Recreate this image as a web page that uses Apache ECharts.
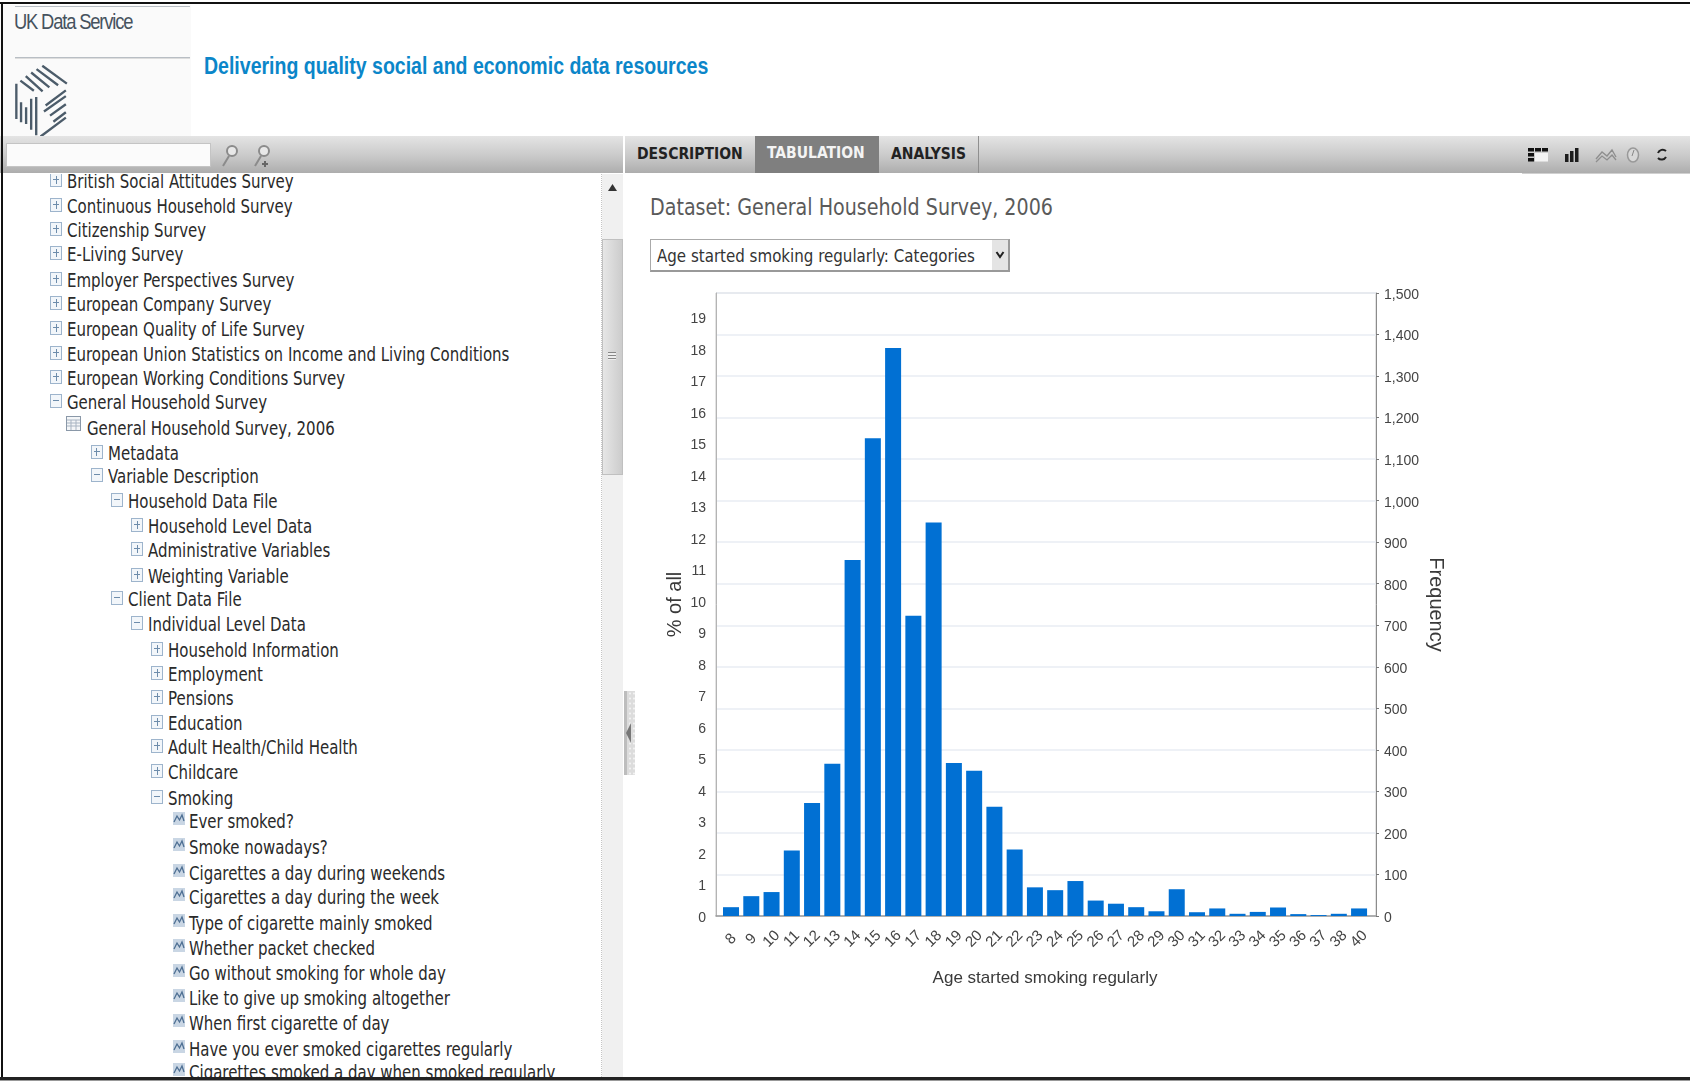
<!DOCTYPE html>
<html><head><meta charset="utf-8"><title>General Household Survey</title>
<script src="https://cdn.jsdelivr.net/npm/echarts@6/dist/echarts.min.js"></script>
<style>
html,body{margin:0;padding:0;background:#fff;width:1690px;height:1081px;overflow:hidden}
#page{position:absolute;left:0;top:0;width:1690px;height:1081px;overflow:hidden;font-family:"DejaVu Sans Condensed","DejaVu Sans",sans-serif;color:#222}
.abs{position:absolute}
.t{position:absolute;white-space:nowrap;line-height:1}
#tree{position:absolute;left:0;top:174px;width:601px;height:903px;overflow:hidden}
.row{position:absolute;height:20px;line-height:20px;white-space:nowrap;font-size:17px;color:#2a2a2a;font-stretch:condensed}
.ico{position:absolute;box-sizing:border-box;width:12px;height:14px;border:1px solid #9db4cc;background:#f2f6fa}
.ico:before{content:"";position:absolute;left:2px;right:2px;top:5px;height:1px;background:#6d8cab}
.ico.plus:after{content:"";position:absolute;top:2px;bottom:2px;left:4.5px;width:1px;background:#6d8cab}
.bar{position:absolute;background:linear-gradient(#e4e4e4,#c9c9c9 55%,#adadad)}
.tab{position:absolute;top:137px;height:36px;line-height:34px;font-family:"DejaVu Sans Condensed";font-weight:bold;font-size:15.5px;color:#222;white-space:nowrap}
#chart{position:absolute;left:0;top:0;width:1690px;height:1081px}
</style></head><body>
<div id="page">
  <div class="abs" style="left:0;top:5px;width:191px;height:131px;background:#fafafa"></div>
  <div class="abs" style="left:15px;top:6px;width:175px;height:1px;background:#b8bec4"></div>
  <div class="abs" style="left:15px;top:57px;width:175px;height:1px;background:#b8bec4;box-shadow:0 1px 0 #ddd"></div>
  <div class="t" id="ukds" style="left:14px;top:11px;font-family:'Liberation Sans';font-size:22px;color:#46525e;letter-spacing:-1.4px;transform-origin:0 0;transform:scaleX(.835)">UK Data Service</div>
  <svg class="abs" style="left:10px;top:55px" width="76" height="97" viewBox="0 0 224 288" fill="none" stroke="#4c5c6a" stroke-width="7">
    <path d="M95 32L168 85M78 42L142 90M62 52L116 96M46 63L96 108M30 76L70 106"/>
    <path d="M105 150L165 105M100 168L165 122M118 180L165 146M128 198L165 170M90 242L165 186"/>
    <path d="M18 85V190M32 140V200M47 155V205M62 130V222M77 125V238"/>
  </svg>
  <div class="t" id="tag" style="left:204px;top:54px;font-family:'Liberation Sans';font-weight:bold;font-size:24px;color:#0b86c9;transform-origin:0 0;transform:scaleX(.813)">Delivering quality social and economic data resources</div>

  <div class="bar" style="left:0;top:136px;width:623px;height:37px"></div>
  <div class="bar" style="left:625px;top:136px;width:1065px;height:37px"></div>
  <div class="abs" style="left:1522px;top:173px;width:168px;height:1px;background:#d0d0d0"></div>
  <div class="abs" style="left:6px;top:143px;width:205px;height:24px;box-sizing:border-box;background:#fbfbfb;border:1px solid #c4c4c4"></div>
  <svg class="abs" style="left:218px;top:142px" width="60" height="26" fill="none" stroke="#8b8b8b" stroke-width="2">
    <circle cx="14" cy="9" r="5" fill="#e8e8e8"/><path d="M11 14L5 24"/>
    <circle cx="46" cy="9" r="5" fill="#e8e8e8"/><path d="M43 14L37 24"/><path d="M47 19V25M44 22H50" stroke="#666"/>
  </svg>

  <div class="tab" style="left:637px">DESCRIPTION</div>
  <div class="abs" style="left:755px;top:136px;width:124px;height:37px;background:#7f7f7f"></div>
  <div class="tab" style="left:767px;color:#f4f4f4;line-height:32px">TABULATION</div>
  <div class="tab" style="left:891px">ANALYSIS</div>
  <div class="abs" style="left:978px;top:136px;width:1px;height:37px;background:#8f8f8f"></div>
  <svg class="abs" style="left:1524px;top:142px" width="150" height="26">
    <g fill="#111"><rect x="4" y="6" width="6" height="3.5"/><rect x="11" y="6" width="6" height="3.5"/><rect x="18" y="6" width="6" height="3.5"/><rect x="4" y="11" width="6" height="3.5"/><rect x="4" y="16" width="6" height="3.5"/></g>
    <g fill="#f3f3f3"><rect x="11" y="11" width="13" height="8.5"/></g>
    <g fill="#1c1c1c"><rect x="41" y="12" width="3.5" height="8"/><rect x="46" y="9" width="3.5" height="11"/><rect x="51" y="6" width="3.5" height="14"/></g>
    <path d="M72 17L78 10L83 14L88 8L92 15M72 20L78 14L83 18L88 13L92 18" fill="none" stroke="#8e8e8e" stroke-width="1.3"/>
    <ellipse cx="109" cy="13" rx="5.5" ry="7" fill="#d8d8d8" stroke="#999" stroke-width="1.5"/><path d="M110 8L108 14" stroke="#888"/>
    <path d="M142 9A5 5 0 0 0 134 11M134 16A5 5 0 0 0 142 15" fill="none" stroke="#222" stroke-width="2"/>
  </svg>

  <div id="tree"></div>
  <div class="abs" style="left:601px;top:174px;width:0;height:903px;border-left:1px dotted #c4c4c4"></div>
  <div class="abs" style="left:602px;top:174px;width:21px;height:903px;background:#f0f0f0"></div>
  <svg class="abs" style="left:602px;top:180px" width="21" height="14"><path d="M6 11L10.5 4L15 11Z" fill="#333"/></svg>
  <div class="abs" style="left:602px;top:239px;width:21px;height:236px;box-sizing:border-box;background:linear-gradient(90deg,#e6e6e6,#cccccc);border:1px solid #c0c0c0"></div>
  <div class="abs" style="left:608px;top:352px;width:8px;height:8px;background:repeating-linear-gradient(#888 0 1px,#eee 1px 3px)"></div>
  <div class="abs" style="left:624px;top:691px;width:11px;height:84px;background-color:#dcdcdc;background-image:linear-gradient(90deg,#bdbdbd 0 3px,transparent 3px),radial-gradient(circle,#f2f2f2 1px,transparent 1.2px);background-size:100% 100%,4px 5px"></div>
  <svg class="abs" style="left:624px;top:691px" width="11" height="84"><path d="M2 42L7 32V52Z" fill="#777"/></svg>

  <div class="t" id="ds" style="left:650px;top:196px;font-size:23px;color:#5a5a5a;transform-origin:0 0;transform:scaleX(.923)">Dataset: General Household Survey, 2006</div>
  <div class="abs" style="left:650px;top:239px;width:360px;height:33px;box-sizing:border-box;background:#fff;border:1px solid #aaa;border-bottom:2px solid #999;border-right:2px solid #999"></div>
  <div class="abs" style="left:992px;top:240px;width:16px;height:30px;background:#e4e4e4"></div>
  <svg class="abs" style="left:992px;top:240px" width="16" height="30"><path d="M4.5 12L8 17L11.5 12" fill="none" stroke="#222" stroke-width="2"/></svg>
  <div class="t" id="sel" style="left:657px;top:248px;font-size:17px;color:#333;transform-origin:0 0;transform:scaleX(.985)">Age started smoking regularly: Categories</div>

  <div id="chart"></div>
  <div class="abs" style="left:0;top:2px;width:1690px;height:2px;background:#111"></div>
  <div class="abs" style="left:1px;top:2px;width:2px;height:1077px;background:#111"></div>
  <div class="abs" style="left:0;top:1077px;width:1690px;height:3px;background:#222"></div>
  <div class="abs" style="left:0;top:1080px;width:1690px;height:1px;background:#999"></div>
</div>
<script>
// ---- chart data ----
var ages = ['8','9','10','11','12','13','14','15','16','17','18','19','20','21','22','23','24','25','26','27','28','29','30','31','32','33','34','35','36','37','38','40'];
var percentOfAll = [0.28,0.63,0.76,2.08,3.59,4.83,11.3,15.17,18.03,9.53,12.49,4.86,4.61,3.47,2.11,0.91,0.82,1.11,0.49,0.39,0.28,0.15,0.85,0.12,0.24,0.07,0.13,0.27,0.06,0.03,0.07,0.24];
var leftAxisMax = 19.78;
var rightAxisMax = 1500;
var xTitle = 'Age started smoking regularly';
var leftTitle = '% of all';
var rightTitle = 'Frequency';
// ---- navigation tree ----
var treeLabels = ['British Social Attitudes Survey','Continuous Household Survey','Citizenship Survey','E-Living Survey','Employer Perspectives Survey','European Company Survey','European Quality of Life Survey','European Union Statistics on Income and Living Conditions','European Working Conditions Survey','General Household Survey','General Household Survey, 2006','Metadata','Variable Description','Household Data File','Household Level Data','Administrative Variables','Weighting Variable','Client Data File','Individual Level Data','Household Information','Employment','Pensions','Education','Adult Health/Child Health','Childcare','Smoking','Ever smoked?','Smoke nowadays?','Cigarettes a day during weekends','Cigarettes a day during the week','Type of cigarette mainly smoked','Whether packet checked','Go without smoking for whole day','Like to give up smoking altogether','When first cigarette of day','Have you ever smoked cigarettes regularly','Cigarettes smoked a day when smoked regularly'];
var treeLevels = [0,0,0,0,0,0,0,0,0,0,1,2,2,3,4,4,4,3,4,5,5,5,5,5,5,5,6,6,6,6,6,6,6,6,6,6,6];
var treeIcons = ['p','p','p','p','p','p','p','p','p','m','t','p','m','m','p','p','p','m','m','p','p','p','p','p','p','m','c','c','c','c','c','c','c','c','c','c','c'];
// page layout of the tree rows (the original screenshot's rows are not evenly spaced)
var treeRowCentres = [181,206,230,254,280,304,329,354,378,402,428,453,476,501,526,550,576,599,624,650,674,698,723,747,772,798,821,847,873,897,923,948,973,998,1023,1049,1072];

var tree = document.getElementById('tree');
treeLabels.forEach(function(label,i){
  var lv = treeLevels[i], cy = treeRowCentres[i]-174, tx = 67 + lv*20.25;
  var r = document.createElement('div'); r.className='row';
  r.style.left = tx+'px'; r.style.top = (cy-10)+'px'; r.textContent = label;
  r.style.transformOrigin='0 50%'; r.style.transform='scale(0.98,1.1)';
  tree.appendChild(r);
  var ic = treeIcons[i], k;
  if (ic==='p'||ic==='m'){ k=document.createElement('div'); k.className='ico '+(ic==='p'?'plus':'minus'); k.style.left=(tx-17)+'px'; k.style.top=(cy-8)+'px'; tree.appendChild(k); }
  else {
    k=document.createElementNS('http://www.w3.org/2000/svg','svg'); k.setAttribute('width','15'); k.setAttribute('height','16');
    k.style.cssText='position:absolute;left:'+(tx-(ic==='c'?17:21))+'px;top:'+(cy-(ic==='c'?10:12))+'px';
    k.innerHTML = ic==='t'
      ? '<rect x="0.5" y="0.5" width="14" height="14" fill="#f4f6f8" stroke="#8a98a8"/><path d="M1 4H14M1 7H14M1 10H14M5 4V14M10 4V14" stroke="#a8b4c2"/>'
      : '<rect x="1" y="1" width="12" height="13" fill="#c9d6e4"/><path d="M2 11L5 5L7.5 9L10 4L12 10" fill="none" stroke="#4e6f93" stroke-width="1.3"/>';
    tree.appendChild(k);
  }
});

var font = '"Liberation Sans"';
var lowered = {v:{padding:[4,0,0,0], color:'#444', fontFamily:font, fontSize:14}};
var chart = echarts.init(document.getElementById('chart'), null, {renderer:'canvas'});
chart.setOption({
  animation:false, backgroundColor:'transparent',
  grid:[
    {left:716, top:293, width:660, height:623, show:true, borderColor:'#c6c6c6', borderWidth:1, backgroundColor:'transparent'},
    {left:720.9, top:293, width:648.3, height:623}
  ],
  xAxis:[
    {gridIndex:0, type:'value', min:0, max:1, axisLine:{show:true, lineStyle:{color:'#9a9a9a',width:1.5}}, axisTick:{show:false}, axisLabel:{show:false}, splitLine:{show:false}},
    {gridIndex:1, type:'category', data:ages, boundaryGap:true, axisLine:{show:false}, axisTick:{show:false},
     axisLabel:{interval:0, rotate:45, align:'center', verticalAlign:'middle', margin:23, color:'#444', fontFamily:font, fontSize:15},
     name:xTitle, nameLocation:'middle', nameGap:54, nameTextStyle:{color:'#3a3a3a', fontFamily:font, fontSize:17}}
  ],
  yAxis:[
    {gridIndex:0, type:'value', position:'left', min:0, max:leftAxisMax, interval:1,
     axisLine:{show:true, lineStyle:{color:'#b4b4b4'}}, axisTick:{show:false}, splitLine:{show:false},
     axisLabel:{showMaxLabel:false, margin:10, rich:lowered, formatter:function(v){return '{v|'+v+'}';}},
     name:leftTitle, nameLocation:'middle', nameGap:31, nameRotate:90, nameTextStyle:{color:'#3a3a3a', fontFamily:font, fontSize:20}},
    {gridIndex:0, type:'value', position:'right', min:0, max:rightAxisMax, interval:100,
     axisLine:{show:true, lineStyle:{color:'#8c8c8c'}}, axisTick:{show:true, length:3, lineStyle:{color:'#777'}},
     splitLine:{show:true, lineStyle:{color:'#e9edf3', width:1.5}},
     axisLabel:{margin:8, rich:lowered, formatter:function(v){return '{v|'+v.toLocaleString('en-GB')+'}';}},
     name:rightTitle, nameLocation:'middle', nameGap:50, nameRotate:-90, nameTextStyle:{color:'#3a3a3a', fontFamily:font, fontSize:20}},
    {gridIndex:1, type:'value', min:0, max:leftAxisMax, show:false}
  ],
  series:[{type:'bar', xAxisIndex:1, yAxisIndex:2, data:percentOfAll, barWidth:'79%', itemStyle:{color:'#0170d3'}, silent:true}]
});
</script>
</body></html>
